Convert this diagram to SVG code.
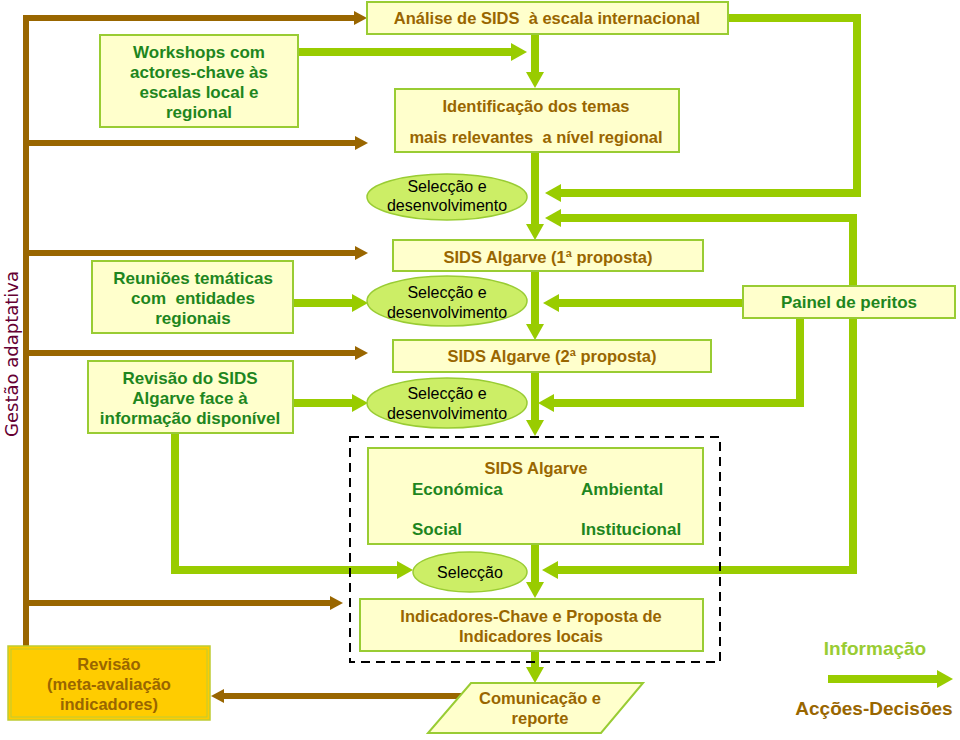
<svg xmlns="http://www.w3.org/2000/svg" width="960" height="740" viewBox="0 0 960 740">
<defs>
<style>
.box{fill:#FFFFCC;stroke:#99CC33;stroke-width:2}
.ell{fill:#CCEE66;stroke:#99CC33;stroke-width:1.5}
.g{fill:none;stroke:#99CC00;stroke-width:8;stroke-linejoin:miter;stroke-linecap:butt}
.b{fill:none;stroke:#996600;stroke-width:6;stroke-linecap:butt}
.tb{font-family:"Liberation Sans",Arial,sans-serif;font-weight:bold;font-size:16.5px;fill:#996600}
.tg{font-family:"Liberation Sans",Arial,sans-serif;font-weight:bold;font-size:17px;fill:#1E861E}
.tk{font-family:"Liberation Sans",Arial,sans-serif;font-size:16px;fill:#000}
.c{text-anchor:middle}
</style>
<marker id="ga" markerUnits="userSpaceOnUse" markerWidth="16" markerHeight="18" refX="0" refY="9" orient="auto">
<path d="M0,0 L16,9 L0,18 Z" fill="#99CC00"/>
</marker>
<marker id="ba" markerUnits="userSpaceOnUse" markerWidth="13" markerHeight="14" refX="0" refY="7" orient="auto">
<path d="M0,0 L13,7 L0,14 Z" fill="#996600"/>
</marker>
</defs>
<rect width="960" height="740" fill="#FFFFFF"/>

<g id="connectors">
<path class="b" d="M26,15 V646"/>
<path class="b" d="M23,18 H354" marker-end="url(#ba)"/>
<path class="b" d="M26,143 H355" marker-end="url(#ba)"/>
<path class="b" d="M26,253 H355" marker-end="url(#ba)"/>
<path class="b" d="M26,353 H355" marker-end="url(#ba)"/>
<path class="b" d="M26,603 H330" marker-end="url(#ba)"/>
<path class="b" d="M464,696 H224" marker-end="url(#ba)"/>
<path class="g" d="M298,52 H511" marker-end="url(#ga)"/>
<path class="g" d="M535,34 V72" marker-end="url(#ga)"/>
<path class="g" d="M728,18 H857 V193 H561" marker-end="url(#ga)"/>
<path class="g" d="M535,152 V224" marker-end="url(#ga)"/>
<path class="g" d="M853,574 V218 H561" marker-end="url(#ga)"/>
<path class="g" d="M853,570 H558" marker-end="url(#ga)"/>
<path class="g" d="M743,303 H559" marker-end="url(#ga)"/>
<path class="g" d="M800,318 V403 H554" marker-end="url(#ga)"/>
<path class="g" d="M535,271 V324" marker-end="url(#ga)"/>
<path class="g" d="M535,372 V420" marker-end="url(#ga)"/>
<path class="g" d="M293,303 H352" marker-end="url(#ga)"/>
<path class="g" d="M293,403 H352" marker-end="url(#ga)"/>
<path class="g" d="M175,433 V570 H397" marker-end="url(#ga)"/>
<path class="g" d="M535,544 V582" marker-end="url(#ga)"/>
<path class="g" d="M535,651 V667" marker-end="url(#ga)"/>
<path class="g" d="M828,679 H937" marker-end="url(#ga)"/>
</g>

<g id="label-gestao">
<text transform="translate(18,354) rotate(-90)" text-anchor="middle" font-family="DejaVu Sans,Verdana,sans-serif" font-size="18" fill="#660033">Gestão adaptativa</text>
</g>

<g id="analise">
<rect class="box" x="367" y="2" width="361" height="32"/>
<text class="tb c" x="547" y="24" xml:space="preserve">Análise de SIDS  à escala internacional</text>
</g>

<g id="workshops">
<rect class="box" x="100" y="35" width="198" height="92"/>
<text class="tg c" x="199" y="58">Workshops com</text>
<text class="tg c" x="199" y="78">actores-chave às</text>
<text class="tg c" x="199" y="98">escalas local e</text>
<text class="tg c" x="199" y="118">regional</text>
</g>

<g id="identificacao">
<rect class="box" x="395" y="89" width="284" height="63"/>
<text class="tb c" x="536" y="112">Identificação dos temas</text>
<text class="tb c" x="536" y="143" xml:space="preserve">mais relevantes  a nível regional</text>
</g>

<g id="seleccao1">
<ellipse class="ell" cx="447" cy="197" rx="80" ry="23"/>
<text class="tk c" x="447" y="192">Selecção e</text>
<text class="tk c" x="447" y="211">desenvolvimento</text>
</g>

<g id="sids1">
<rect class="box" x="393" y="240" width="310" height="31"/>
<text class="tb c" x="548" y="263">SIDS Algarve (1ª proposta)</text>
</g>

<g id="reunioes">
<rect class="box" x="92" y="261" width="201" height="72"/>
<text class="tg c" x="193" y="284">Reuniões temáticas</text>
<text class="tg c" x="193" y="304" xml:space="preserve">com  entidades</text>
<text class="tg c" x="193" y="324">regionais</text>
</g>

<g id="seleccao2">
<ellipse class="ell" cx="447" cy="301" rx="80" ry="25"/>
<text class="tk c" x="447" y="298">Selecção e</text>
<text class="tk c" x="447" y="318">desenvolvimento</text>
</g>

<g id="painel">
<rect class="box" x="743" y="286" width="212" height="32"/>
<text class="tg c" x="849" y="308">Painel de peritos</text>
</g>

<g id="sids2">
<rect class="box" x="393" y="340" width="318" height="32"/>
<text class="tb c" x="552" y="362">SIDS Algarve (2ª proposta)</text>
</g>

<g id="revisao-sids">
<rect class="box" x="88" y="361" width="205" height="72"/>
<text class="tg c" x="190" y="384">Revisão do SIDS</text>
<text class="tg c" x="190" y="404">Algarve face à</text>
<text class="tg c" x="190" y="424">informação disponível</text>
</g>

<g id="seleccao3">
<ellipse class="ell" cx="447" cy="403" rx="80" ry="25"/>
<text class="tk c" x="447" y="399">Selecção e</text>
<text class="tk c" x="447" y="419">desenvolvimento</text>
</g>

<g id="grupo-tracejado">
<rect x="350" y="437" width="370" height="225" fill="none" stroke="#000" stroke-width="2" stroke-dasharray="9,6"/>
</g>

<g id="sids-algarve">
<rect class="box" x="368" y="448" width="335" height="96"/>
<text class="tb c" x="536" y="474" font-size="19">SIDS Algarve</text>
<text class="tg" x="412" y="495">Económica</text>
<text class="tg" x="581" y="495">Ambiental</text>
<text class="tg" x="412" y="535">Social</text>
<text class="tg" x="581" y="535">Institucional</text>
</g>

<g id="seleccao4">
<ellipse class="ell" cx="470" cy="572" rx="57" ry="20"/>
<text class="tk c" x="470" y="578">Selecção</text>
</g>

<g id="indicadores">
<rect class="box" x="360" y="599" width="343" height="52"/>
<text class="tb c" x="531" y="622">Indicadores-Chave e Proposta de</text>
<text class="tb c" x="531" y="642">Indicadores locais</text>
</g>

<g id="comunicacao">
<polygon class="box" points="471,683 643,683 601,733 428,733"/>
<text class="tb c" x="540" y="704">Comunicação e</text>
<text class="tb c" x="540" y="724">reporte</text>
</g>

<g id="revisao">
<rect x="8" y="646" width="202" height="74" fill="#FFCC00" stroke="#BFCC33" stroke-width="1.5"/>
<rect x="11" y="649" width="196" height="68" fill="none" stroke="#BFCC33" stroke-width="1"/>
<text class="tb c" x="109" y="670">Revisão</text>
<text class="tb c" x="109" y="690">(meta-avaliação</text>
<text class="tb c" x="109" y="710">indicadores)</text>
</g>

<g id="legenda">
<text class="c" x="875" y="655" font-family="Liberation Sans,Arial,sans-serif" font-weight="bold" font-size="19" fill="#99CC33">Informação</text>
<text class="c" x="874" y="715" font-family="Liberation Sans,Arial,sans-serif" font-weight="bold" font-size="19" fill="#996600">Acções-Decisões</text>
</g>
</svg>
